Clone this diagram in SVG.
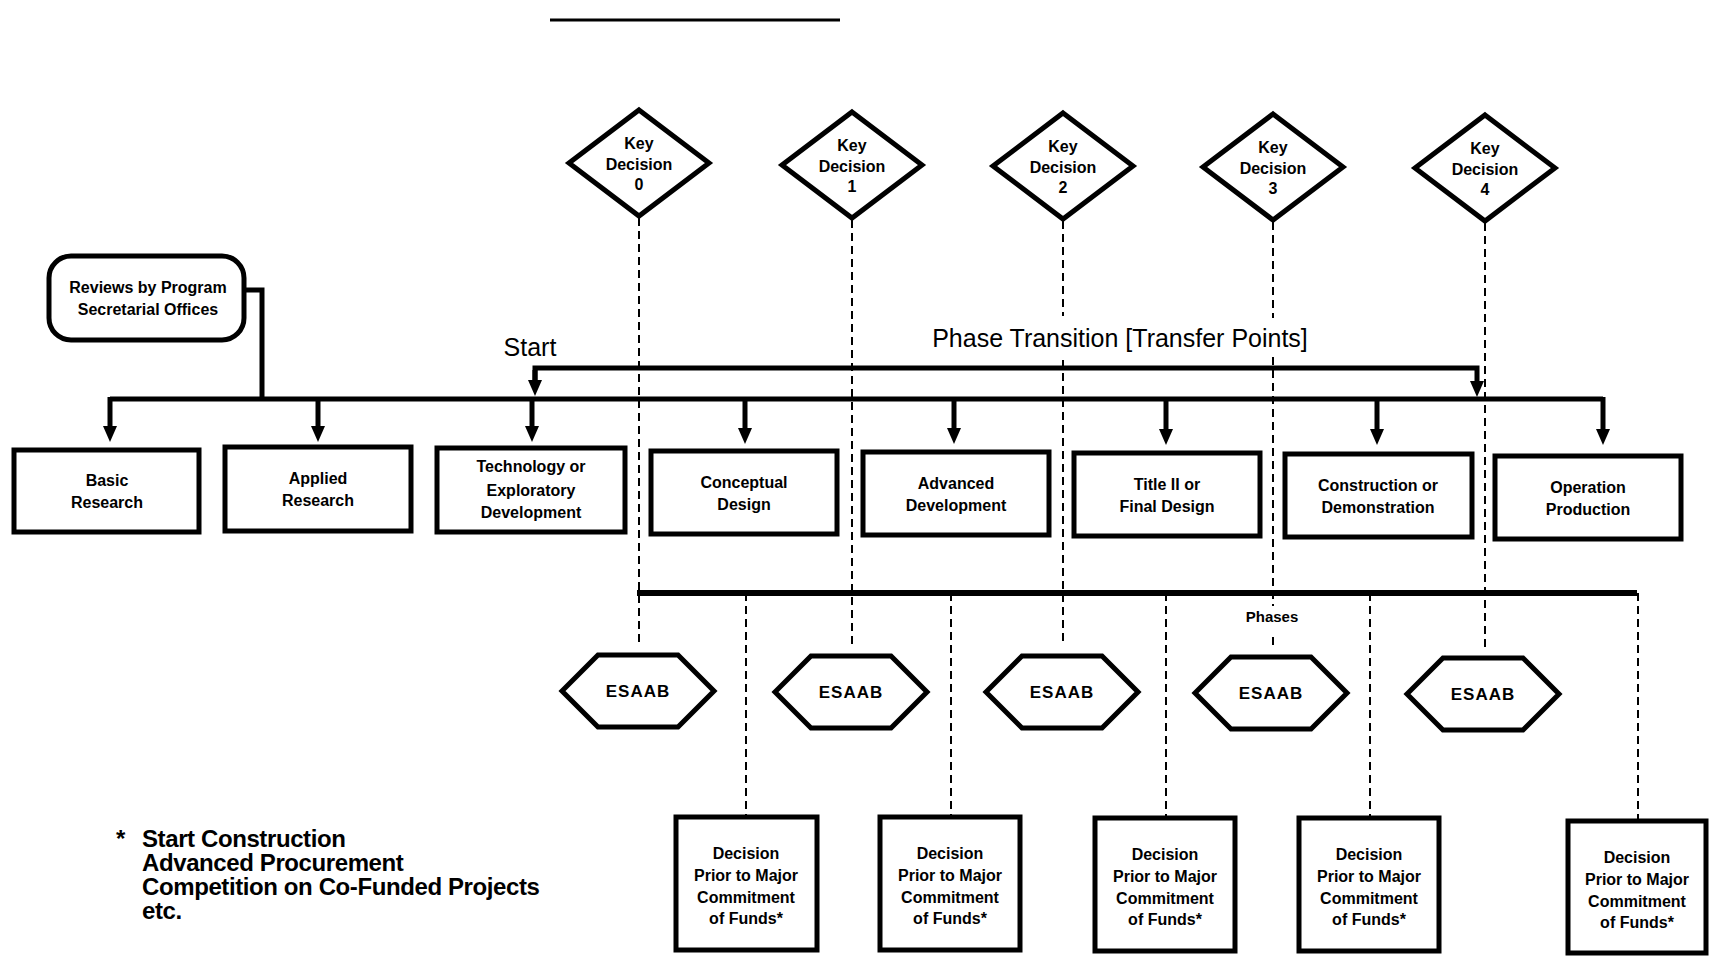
<svg xmlns="http://www.w3.org/2000/svg" width="1712" height="959" viewBox="0 0 1712 959">
  <style>
    .box { fill: #fff; stroke: #000; stroke-width: 5; }
    .lbl { font-family: "Liberation Sans", Arial, sans-serif; font-weight: bold; font-size: 16px; text-anchor: middle; fill: #000; }
    .big { font-family: "Liberation Sans", Arial, sans-serif; font-size: 25px; fill: #000; }
    .note { font-family: "Liberation Sans", Arial, sans-serif; font-weight: bold; font-size: 24px; fill: #000; letter-spacing: -0.4px; }
    .solid { fill: none; stroke: #000; stroke-width: 5; }
    .dash { fill: none; stroke: #000; stroke-width: 2; stroke-dasharray: 8 5; }
  </style>
  <defs>
    <marker id="arrow" markerUnits="userSpaceOnUse" markerWidth="16" markerHeight="14" viewBox="0 0 16 14" refX="2" refY="7" orient="auto">
      <path d="M0,0 L16,7 L0,14 z" fill="#000"/>
    </marker>
  </defs>

  <!-- heading rule -->
  <line x1="550" y1="20" x2="840" y2="20" stroke="#000" stroke-width="3"/>

  <!-- connectors -->
  <g id="connectors">
    <!-- review offices feed the main bus -->
    <path class="solid" d="M244,290 H262 V399"/>
    <!-- main bus -->
    <path class="solid" d="M110,399 H1603"/>
    <line class="solid" x1="110" y1="397" x2="110" y2="428" marker-end="url(#arrow)"/>
    <line class="solid" x1="318" y1="399" x2="318" y2="428" marker-end="url(#arrow)"/>
    <line class="solid" x1="532" y1="399" x2="532" y2="428" marker-end="url(#arrow)"/>
    <line class="solid" x1="745" y1="399" x2="745" y2="430" marker-end="url(#arrow)"/>
    <line class="solid" x1="954" y1="399" x2="954" y2="430" marker-end="url(#arrow)"/>
    <line class="solid" x1="1166" y1="399" x2="1166" y2="431" marker-end="url(#arrow)"/>
    <line class="solid" x1="1377" y1="399" x2="1377" y2="431" marker-end="url(#arrow)"/>
    <line class="solid" x1="1603" y1="397" x2="1603" y2="431" marker-end="url(#arrow)"/>
    <!-- phase transition line -->
    <path class="solid" d="M535,382 V368 H1477 V383" marker-end="url(#arrow)"/>
    <line class="solid" x1="535" y1="370" x2="535" y2="382" marker-end="url(#arrow)"/>
    <!-- key decision drop lines (broken around the transition label) -->
    <line class="dash" x1="639" y1="218" x2="639" y2="645"/>
    <line class="dash" x1="852" y1="220" x2="852" y2="645"/>
    <line class="dash" x1="1063" y1="221" x2="1063" y2="316"/>
    <line class="dash" x1="1063" y1="360" x2="1063" y2="646"/>
    <line class="dash" x1="1273" y1="222" x2="1273" y2="318"/>
    <line class="dash" x1="1273" y1="357" x2="1273" y2="606"/>
    <line class="dash" x1="1273" y1="637" x2="1273" y2="648"/>
    <line class="dash" x1="1485" y1="223" x2="1485" y2="648"/>
    <!-- phases bus and funding decision drops -->
    <path d="M637,593 H1637" fill="none" stroke="#000" stroke-width="6"/>
    <line class="dash" x1="746" y1="593" x2="746" y2="817"/>
    <line class="dash" x1="951" y1="593" x2="951" y2="817"/>
    <line class="dash" x1="1166" y1="593" x2="1166" y2="818"/>
    <line class="dash" x1="1370" y1="593" x2="1370" y2="818"/>
    <line class="dash" x1="1638" y1="593" x2="1638" y2="821"/>
  </g>

  <text class="big" x="530" y="356" text-anchor="middle">Start</text>
  <text class="big" x="1120" y="347" text-anchor="middle">Phase Transition [Transfer Points]</text>
  <text class="lbl" x="1272" y="622" style="font-size:15px">Phases</text>

  <!-- review node -->
  <g id="reviews">
    <rect class="box" x="49" y="256" width="195" height="84" rx="22"/>
    <text class="lbl" x="148" y="293">Reviews by Program</text>
    <text class="lbl" x="148" y="315">Secretarial Offices</text>
  </g>

  <!-- key decisions -->
  <g id="kd0">
    <polygon class="box" points="639,110 709,163 639,216 569,163"/>
    <text class="lbl" x="639" y="149">Key</text>
    <text class="lbl" x="639" y="170">Decision</text>
    <text class="lbl" x="639" y="190">0</text>
  </g>
  <g id="kd1">
    <polygon class="box" points="852,112 922,165 852,218 782,165"/>
    <text class="lbl" x="852" y="151">Key</text>
    <text class="lbl" x="852" y="172">Decision</text>
    <text class="lbl" x="852" y="192">1</text>
  </g>
  <g id="kd2">
    <polygon class="box" points="1063,113 1133,166 1063,219 993,166"/>
    <text class="lbl" x="1063" y="152">Key</text>
    <text class="lbl" x="1063" y="173">Decision</text>
    <text class="lbl" x="1063" y="193">2</text>
  </g>
  <g id="kd3">
    <polygon class="box" points="1273,114 1343,167 1273,220 1203,167"/>
    <text class="lbl" x="1273" y="153">Key</text>
    <text class="lbl" x="1273" y="174">Decision</text>
    <text class="lbl" x="1273" y="194">3</text>
  </g>
  <g id="kd4">
    <polygon class="box" points="1485,115 1555,168 1485,221 1415,168"/>
    <text class="lbl" x="1485" y="154">Key</text>
    <text class="lbl" x="1485" y="175">Decision</text>
    <text class="lbl" x="1485" y="195">4</text>
  </g>

  <!-- phase boxes -->
  <g id="basic-research">
    <rect class="box" x="14" y="450" width="185" height="82"/>
    <text class="lbl" x="107" y="486">Basic</text>
    <text class="lbl" x="107" y="508">Research</text>
  </g>
  <g id="applied-research">
    <rect class="box" x="225" y="447" width="186" height="84"/>
    <text class="lbl" x="318" y="484">Applied</text>
    <text class="lbl" x="318" y="506">Research</text>
  </g>
  <g id="technology">
    <rect class="box" x="437" y="448" width="188" height="84"/>
    <text class="lbl" x="531" y="472">Technology or</text>
    <text class="lbl" x="531" y="496">Exploratory</text>
    <text class="lbl" x="531" y="518">Development</text>
  </g>
  <g id="conceptual-design">
    <rect class="box" x="651" y="451" width="186" height="83"/>
    <text class="lbl" x="744" y="488">Conceptual</text>
    <text class="lbl" x="744" y="510">Design</text>
  </g>
  <g id="advanced-development">
    <rect class="box" x="863" y="452" width="186" height="83"/>
    <text class="lbl" x="956" y="489">Advanced</text>
    <text class="lbl" x="956" y="511">Development</text>
  </g>
  <g id="final-design">
    <rect class="box" x="1074" y="453" width="186" height="83"/>
    <text class="lbl" x="1167" y="490">Title II or</text>
    <text class="lbl" x="1167" y="512">Final Design</text>
  </g>
  <g id="construction">
    <rect class="box" x="1285" y="454" width="187" height="83"/>
    <text class="lbl" x="1378" y="491">Construction or</text>
    <text class="lbl" x="1378" y="513">Demonstration</text>
  </g>
  <g id="operation">
    <rect class="box" x="1495" y="456" width="186" height="83"/>
    <text class="lbl" x="1588" y="493">Operation</text>
    <text class="lbl" x="1588" y="515">Production</text>
  </g>

  <!-- ESAAB reviews -->
  <g id="esaab0">
    <polygon class="box" points="562,691 598,655 678,655 714,691 678,727 598,727"/>
    <text class="lbl" x="638" y="697" style="font-size:17px;letter-spacing:1px">ESAAB</text>
  </g>
  <g id="esaab1">
    <polygon class="box" points="775,692 811,656 891,656 927,692 891,728 811,728"/>
    <text class="lbl" x="851" y="698" style="font-size:17px;letter-spacing:1px">ESAAB</text>
  </g>
  <g id="esaab2">
    <polygon class="box" points="986,692 1022,656 1102,656 1138,692 1102,728 1022,728"/>
    <text class="lbl" x="1062" y="698" style="font-size:17px;letter-spacing:1px">ESAAB</text>
  </g>
  <g id="esaab3">
    <polygon class="box" points="1195,693 1231,657 1311,657 1347,693 1311,729 1231,729"/>
    <text class="lbl" x="1271" y="699" style="font-size:17px;letter-spacing:1px">ESAAB</text>
  </g>
  <g id="esaab4">
    <polygon class="box" points="1407,694 1443,658 1523,658 1559,694 1523,730 1443,730"/>
    <text class="lbl" x="1483" y="700" style="font-size:17px;letter-spacing:1px">ESAAB</text>
  </g>

  <!-- funding decisions -->
  <g id="funds0">
    <rect class="box" x="676" y="817" width="141" height="133"/>
    <text class="lbl" x="746" y="859">Decision</text>
    <text class="lbl" x="746" y="881">Prior to Major</text>
    <text class="lbl" x="746" y="903">Commitment</text>
    <text class="lbl" x="746" y="924">of Funds*</text>
  </g>
  <g id="funds1">
    <rect class="box" x="880" y="817" width="140" height="133"/>
    <text class="lbl" x="950" y="859">Decision</text>
    <text class="lbl" x="950" y="881">Prior to Major</text>
    <text class="lbl" x="950" y="903">Commitment</text>
    <text class="lbl" x="950" y="924">of Funds*</text>
  </g>
  <g id="funds2">
    <rect class="box" x="1095" y="818" width="140" height="133"/>
    <text class="lbl" x="1165" y="860">Decision</text>
    <text class="lbl" x="1165" y="882">Prior to Major</text>
    <text class="lbl" x="1165" y="904">Commitment</text>
    <text class="lbl" x="1165" y="925">of Funds*</text>
  </g>
  <g id="funds3">
    <rect class="box" x="1299" y="818" width="140" height="133"/>
    <text class="lbl" x="1369" y="860">Decision</text>
    <text class="lbl" x="1369" y="882">Prior to Major</text>
    <text class="lbl" x="1369" y="904">Commitment</text>
    <text class="lbl" x="1369" y="925">of Funds*</text>
  </g>
  <g id="funds4">
    <rect class="box" x="1568" y="821" width="138" height="132"/>
    <text class="lbl" x="1637" y="863">Decision</text>
    <text class="lbl" x="1637" y="885">Prior to Major</text>
    <text class="lbl" x="1637" y="907">Commitment</text>
    <text class="lbl" x="1637" y="928">of Funds*</text>
  </g>

  <!-- footnote -->
  <g id="footnote">
    <text class="note" x="116" y="847">*</text>
    <text class="note" x="142" y="847">Start Construction</text>
    <text class="note" x="142" y="871">Advanced Procurement</text>
    <text class="note" x="142" y="895">Competition on Co-Funded Projects</text>
    <text class="note" x="142" y="919">etc.</text>
  </g>
</svg>
